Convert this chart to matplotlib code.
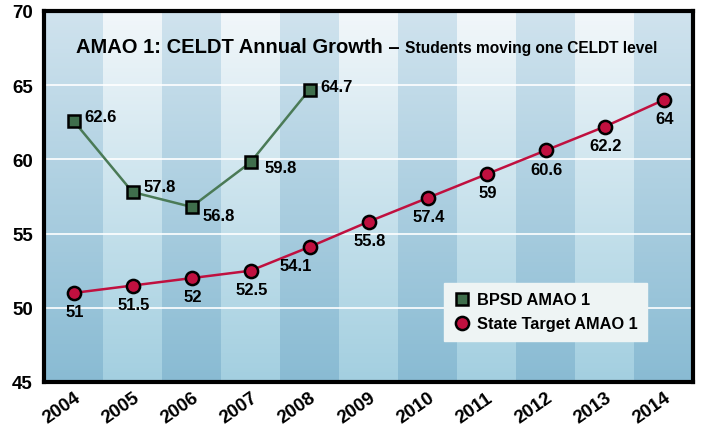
import numpy as np
import matplotlib
matplotlib.use("Agg")
import matplotlib.pyplot as plt
from matplotlib.lines import Line2D

years = ["2004", "2005", "2006", "2007", "2008", "2009", "2010",
         "2011", "2012", "2013", "2014"]
bpsd = [62.6, 57.8, 56.8, 59.8, 64.7]
state = [51, 51.5, 52, 52.5, 54.1, 55.8, 57.4, 59, 60.6, 62.2, 64]
bpsd_labels = ["62.6", "57.8", "56.8", "59.8", "64.7"]
state_labels = ["51", "51.5", "52", "52.5", "54.1", "55.8", "57.4",
                "59", "60.6", "62.2", "64"]

plt.rcParams['font.family'] = ['Liberation Sans', 'DejaVu Sans']
plt.rcParams['font.weight'] = 'bold'

fig = plt.figure(figsize=(7.01, 4.31), dpi=100)
ax = fig.add_axes([44 / 701, 1 - 383 / 431, 649 / 701, 371 / 431])

# background: striped columns with vertical gradient
n = len(years)
rows = 256
t = np.linspace(0, 1, rows)[:, None]  # 0 = bottom, 1 = top
dark_bot, dark_top = np.array([137, 187, 211]), np.array([208, 227, 238])
light_bot, light_top = np.array([163, 207, 224]), np.array([242, 247, 250])
dark = dark_bot + (dark_top - dark_bot) * t
light = light_bot + (light_top - light_bot) * t
img = np.zeros((rows, n, 3))
for i in range(n):
    img[:, i, :] = dark if i % 2 == 0 else light
ax.imshow(img[::-1] / 255, extent=(-0.5, n - 0.5, 45, 70), aspect='auto',
          interpolation='nearest', zorder=0)

for y in [50, 55, 60, 65]:
    ax.axhline(y, color='white', lw=1.2, zorder=1)

x = np.arange(n)
ax.plot(x[:len(bpsd)], bpsd, color='#4a7a56', lw=1.8, marker='s', ms=9,
        mfc='#3f6e4c', mec='black', mew=1.8, zorder=3)
ax.plot(x, state, color='#c0103f', lw=1.8, marker='o', ms=9.5,
        mfc='#c0103f', mec='black', mew=1.8, zorder=3)

bpsd_off = {"62.6": (8, 3), "57.8": (8, 4), "56.8": (8, -6), "59.8": (10, -4), "64.7": (8, 2)}
for xi, v, s in zip(x, bpsd, bpsd_labels):
    ax.annotate(s, (xi, v), xytext=bpsd_off[s], textcoords='offset points',
                ha='left', va='center', fontsize=12, fontweight='bold')
for xi, v, s in zip(x, state, state_labels):
    dx = -10 if s == "54.1" else 1
    ax.annotate(s, (xi, v), xytext=(dx, -8), textcoords='offset points',
                ha='center', va='top', fontsize=12, fontweight='bold')

ax.set_xlim(-0.5, n - 0.5)
ax.set_ylim(45, 70)
ax.set_yticks([45, 50, 55, 60, 65, 70])
ax.set_xticks(x)
ax.set_xticklabels(years, rotation=35, ha='right', rotation_mode='anchor')
ax.tick_params(axis='both', length=0, labelsize=13.5, pad=8)
ax.tick_params(axis='x', pad=5)
for lbl in ax.get_xticklabels() + ax.get_yticklabels():
    lbl.set_fontweight('bold')
for sp in ax.spines.values():
    sp.set_linewidth(3)
    sp.set_color('black')

ax.text(0.049, 0.905, "AMAO 1: CELDT Annual Growth \u2013", transform=ax.transAxes,
        fontsize=14.5, fontweight='bold', va='center', ha='left', zorder=5)
ax.text(0.556, 0.902, "Students moving one CELDT level", transform=ax.transAxes,
        fontsize=11.2, fontweight='bold', va='center', ha='left', zorder=5)

handles = [
    Line2D([], [], ls='none', marker='s', ms=9, mfc='#3f6e4c', mec='black', mew=1.8),
    Line2D([], [], ls='none', marker='o', ms=9.5, mfc='#c0103f', mec='black', mew=1.8),
]
leg = ax.legend(handles, ["BPSD AMAO 1", "State Target AMAO 1"],
                loc='lower left', bbox_to_anchor=(0.616, 0.11), borderaxespad=0,
                prop={'weight': 'bold', 'size': 11.8}, frameon=True,
                fancybox=False, handletextpad=0.4, borderpad=0.6,
                labelspacing=0.55, handlelength=1.0)
leg.get_frame().set_facecolor('#eef4f4')
leg.get_frame().set_edgecolor('#eef4f4')
leg.get_frame().set_alpha(1)
leg.set_zorder(6)

fig.savefig("out.png", dpi=100)
